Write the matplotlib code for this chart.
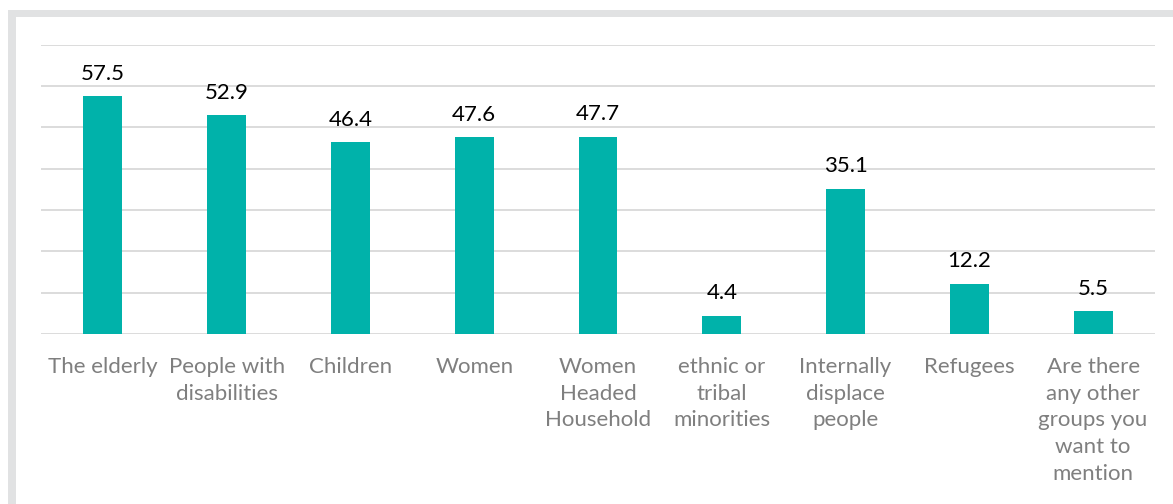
import matplotlib
matplotlib.use("Agg")
import matplotlib.pyplot as plt
from matplotlib.patches import Rectangle

categories = [
    "The elderly",
    "People with\ndisabilities",
    "Children",
    "Women",
    "Women\nHeaded\nHousehold",
    "ethnic or\ntribal\nminorities",
    "Internally\ndisplace\npeople",
    "Refugees",
    "Are there\nany other\ngroups you\nwant to\nmention",
]
values = [57.5, 52.9, 46.4, 47.6, 47.7, 4.4, 35.1, 12.2, 5.5]

BAR_COLOR = "#00B2AA"
GRID_COLOR = "#D9D9D9"
FRAME_COLOR = "#E1E2E3"
LABEL_COLOR = "#7F7F7F"

plt.rcParams["font.family"] = ["Lato", "DejaVu Sans"]

W, H = 1173, 504
fig = plt.figure(figsize=(W / 100, H / 100), dpi=100)

# light grey frame along the top and left edges
fig.patches.append(Rectangle((8 / W, 0), 8 / W, (H - 10) / H, transform=fig.transFigure,
                             facecolor=FRAME_COLOR, edgecolor="none", zorder=0))
fig.patches.append(Rectangle((8 / W, (H - 17) / H), 1 - 8 / W, 7 / H, transform=fig.transFigure,
                             facecolor=FRAME_COLOR, edgecolor="none", zorder=0))

ax = fig.add_axes([41 / W, (H - 334) / H, (1155 - 41) / W, (334 - 44.6) / H])
x = list(range(len(categories)))
ax.bar(x, values, width=0.315, color=BAR_COLOR, zorder=3)
ax.set_xlim(-0.5, len(categories) - 0.5)
ax.set_ylim(0, 70)
ax.set_yticks(range(0, 71, 10))
ax.yaxis.grid(True, color=GRID_COLOR, linewidth=1.3)
ax.set_axisbelow(True)
for s in ax.spines.values():
    s.set_visible(False)
ax.tick_params(axis="y", left=False, labelleft=False)
ax.tick_params(axis="x", bottom=False, pad=13)
ax.set_xticks(x)
ax.set_xticklabels(categories, fontsize=16, color=LABEL_COLOR, linespacing=1.42)

for xi, v in zip(x, values):
    ax.annotate(f"{v:.1f}", (xi, v), xytext=(0, 9), textcoords="offset points",
                ha="center", va="bottom", fontsize=16, color="#000000")

fig.savefig("out.png", dpi=100, facecolor="white")
